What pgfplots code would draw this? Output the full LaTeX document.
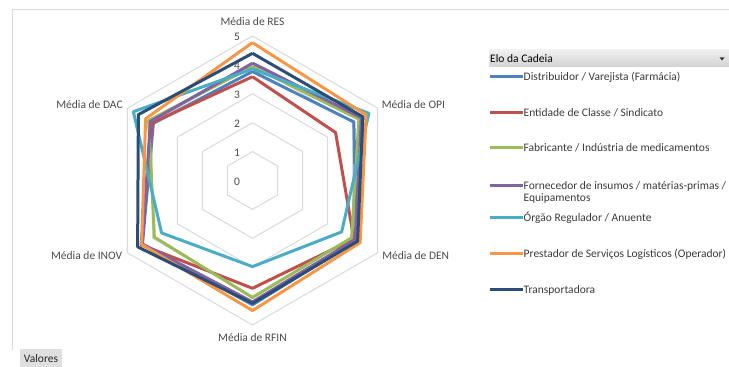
\documentclass[border=0pt]{standalone}
\usepackage{pgfplots}
\pgfplotsset{compat=1.18}
\usepgfplotslibrary{polar}
\usepackage{fontspec}
\setmainfont{Carlito}
\definecolor{sA}{HTML}{4F81BD}
\definecolor{sB}{HTML}{C0504D}
\definecolor{sC}{HTML}{9BBB59}
\definecolor{sD}{HTML}{8064A2}
\definecolor{sE}{HTML}{4BACC6}
\definecolor{sF}{HTML}{F79646}
\definecolor{sG}{HTML}{2C4D75}
\definecolor{gridc}{HTML}{D9D9D9}
\definecolor{labc}{HTML}{4A4A4A}
\definecolor{legc}{HTML}{3A3A3A}
\newcommand{\fs}{\fontsize{11.5}{13.5}\selectfont}
\tikzset{lab/.style={font=\fs, text=labc, inner sep=1pt}}
\begin{document}
\begin{tikzpicture}[x=1pt,y=1pt]
\path[use as bounding box] (0,0) rectangle (729,367);
\draw[gridc, line width=1pt] (12,17) -- (12,357) -- (729,357);
\begin{polaraxis}[
  at={(252.5pt,186.5pt)}, anchor=center,
  width=289pt, height=289pt, scale only axis,
  xmin=0, xmax=360, ymin=0, ymax=5,
  enlargelimits=false, clip=false,
  axis line style={draw=none}, ticks=none, grid=none,
]
% hexagonal grid
\foreach \r in {1,2,3,4,5} {
  \edef\tmp{\noexpand\addplot[gridc, line width=1pt] coordinates {(90,\r)(30,\r)(330,\r)(270,\r)(210,\r)(150,\r)(90,\r)};}
  \tmp
}
% series: RES(90) OPI(30) DEN(330) RFIN(270) INOV(210) DAC(150)
\addplot[sA, line width=3pt, line join=round] coordinates {(90,3.77)(30,4.05)(330,4.15)(270,4.30)(210,4.40)(150,3.96)(90,3.77)};
\addplot[sB, line width=3pt, line join=round] coordinates {(90,3.59)(30,3.32)(330,4.05)(270,3.73)(210,4.45)(150,4.00)(90,3.59)};
\addplot[sC, line width=3pt, line join=round] coordinates {(90,3.94)(30,4.25)(330,3.96)(270,4.05)(210,3.92)(150,4.15)(90,3.94)};
\addplot[sD, line width=3pt, line join=round] coordinates {(90,4.06)(30,4.35)(330,4.10)(270,4.20)(210,4.40)(150,4.08)(90,4.06)};
\addplot[sE, line width=3pt, line join=round] coordinates {(90,3.86)(30,4.65)(330,3.56)(270,2.98)(210,3.63)(150,4.76)(90,3.86)};
\addplot[sF, line width=3pt, line join=round] coordinates {(90,4.77)(30,4.54)(330,4.30)(270,4.50)(210,4.43)(150,4.27)(90,4.77)};
\addplot[sG, line width=3pt, line join=round] coordinates {(90,4.40)(30,4.41)(330,4.20)(270,4.25)(210,4.59)(150,4.56)(90,4.40)};
% radial tick labels
\foreach \r in {0,1,2,3,4,5} {
  \edef\tmp{\noexpand\node[lab, xshift=-15.5pt, yshift=-1pt] at (axis cs:90,\r) {\r};}
  \tmp
}
% category labels
\node[lab, yshift=14pt] at (axis cs:90,5) {Média de RES};
\node[lab, anchor=west, xshift=3pt, yshift=4pt] at (axis cs:30,5) {Média de OPI};
\node[lab, anchor=west, xshift=3.5pt, yshift=-3pt] at (axis cs:330,5) {Média de DEN};
\node[lab, yshift=-13pt] at (axis cs:270,5) {Média de RFIN};
\node[lab, anchor=east, xshift=-4pt, yshift=-3pt] at (axis cs:210,5) {Média de INOV};
\node[lab, anchor=east, xshift=-3.5pt, yshift=4pt] at (axis cs:150,5) {Média de DAC};
\end{polaraxis}
% legend
\shade[top color=gray!12, bottom color=gray!35] (489,317) rectangle (729,300);
\node[anchor=west, inner sep=0pt, font=\fs, text=black] at (490,308.5) {Elo da Cadeia};
\fill[black!80] (719.5,309.5) -- (724.5,309.5) -- (722,306.5) -- cycle;
\begin{scope}[every node/.style={anchor=west, inner sep=0pt, font=\fs, text=legc}]
\draw[sA, line width=3pt] (490,290) -- (523,290); \node at (523.5,290) {Distribuidor / Varejista (Farmácia)};
\draw[sB, line width=3pt] (490,254) -- (523,254); \node at (523.5,254) {Entidade de Classe / Sindicato};
\draw[sC, line width=3pt] (490,219) -- (523,219); \node at (523.5,219) {Fabricante / Indústria de medicamentos};
\draw[sD, line width=3pt] (490,181) -- (523,181); \node at (523.5,181) {Fornecedor de insumos / matérias-primas /};
\node at (523.5,169) {Equipamentos};
\draw[sE, line width=3pt] (490,149) -- (523,149); \node at (523.5,149) {Órgão Regulador / Anuente};
\draw[sF, line width=3pt] (490,113) -- (523,113); \node at (523.5,113) {Prestador de Serviços Logísticos (Operador)};
\draw[sG, line width=3pt] (490,77) -- (523,77); \node at (523.5,77) {Transportadora};
\end{scope}
% Valores button
\fill[gray!25] (20,0) rectangle (62,18);
\node[font=\fs, text=black!85] at (41,8.5) {Valores};
\end{tikzpicture}
\end{document}
